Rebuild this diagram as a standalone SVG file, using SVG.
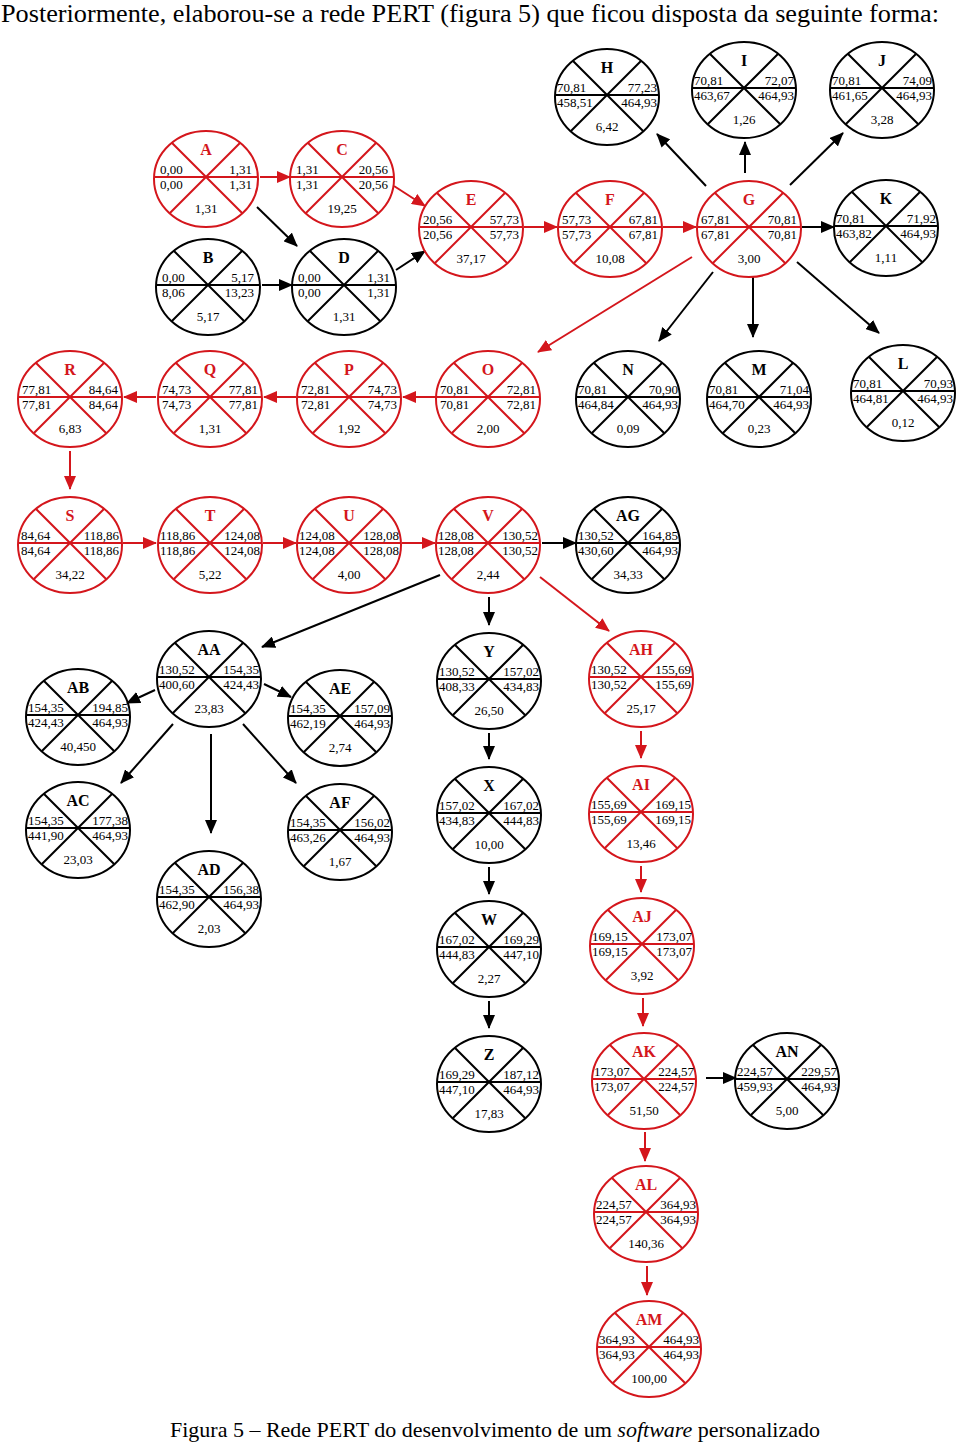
<svg xmlns="http://www.w3.org/2000/svg" xmlns:xlink="http://www.w3.org/1999/xlink" width="960" height="1442" viewBox="0 0 960 1442">
<style>
.r{color:#d4161c}
.k{color:#000}
text{font-family:"Liberation Serif","Times New Roman",serif}
.lb{font-size:16px;font-weight:bold;text-anchor:middle;fill:currentColor}
.nl{font-size:13px;fill:#000}
.nr{font-size:13px;fill:#000;text-anchor:end}
.du{font-size:13px;fill:#000;text-anchor:middle}
.cr{stroke:#d4161c;stroke-width:2;fill:none;marker-end:url(#mr)}
.ck{stroke:#000;stroke-width:2;fill:none;marker-end:url(#mk)}
</style>
<defs>
<marker id="mk" viewBox="0 0 14 12" refX="13" refY="6" markerWidth="14" markerHeight="12" markerUnits="userSpaceOnUse" orient="auto"><path d="M0,0L14,6L0,12z" fill="#000"/></marker>
<marker id="mr" viewBox="0 0 14 12" refX="13" refY="6" markerWidth="14" markerHeight="12" markerUnits="userSpaceOnUse" orient="auto"><path d="M0,0L14,6L0,12z" fill="#d4161c"/></marker>
<g id="nd" fill="none" stroke="currentColor" stroke-width="2"><ellipse cx="0" cy="2" rx="52" ry="48"/><path d="M-52,0H52M-34.2,-34.2L36.3,36.3M34.2,-34.2L-36.3,36.3"/></g>
</defs>
<rect width="960" height="1442" fill="#fff"/>
<text x="1" y="22" font-size="25" textLength="938" lengthAdjust="spacingAndGlyphs">Posteriormente, elaborou-se a rede PERT (figura 5) que ficou disposta da seguinte forma:</text>

<g id="connectors">
<path class="cr" d="M260,177L290,177"/>
<path class="cr" d="M394,186L425,206"/>
<path class="cr" d="M524,227L557,227"/>
<path class="cr" d="M663,227L696,227"/>
<path class="cr" d="M692,257L538,352"/>
<path class="cr" d="M436,397L403,397"/>
<path class="cr" d="M296,397L264,397"/>
<path class="cr" d="M156,397L124,397"/>
<path class="cr" d="M70,451L70,489"/>
<path class="cr" d="M123,543L156,543"/>
<path class="cr" d="M263,543L296,543"/>
<path class="cr" d="M402,543L435,543"/>
<path class="cr" d="M540,577L609,631"/>
<path class="cr" d="M641,731L641,758"/>
<path class="cr" d="M641,866L641,892"/>
<path class="cr" d="M643,998L643,1026"/>
<path class="cr" d="M645,1132L645,1161"/>
<path class="cr" d="M647,1266L647,1295"/>
<path class="ck" d="M257,207L297,246"/>
<path class="ck" d="M262,285L292,285"/>
<path class="ck" d="M396,270L425,251"/>
<path class="ck" d="M706,186L657,134"/>
<path class="ck" d="M745,173L745,142"/>
<path class="ck" d="M790,185L843,133"/>
<path class="ck" d="M802,227L834,227"/>
<path class="ck" d="M713,272L659,341"/>
<path class="ck" d="M753,276L753,337"/>
<path class="ck" d="M797,262L879,333"/>
<path class="ck" d="M542,543L576,543"/>
<path class="ck" d="M440,575L262,647"/>
<path class="ck" d="M489,597L489,625"/>
<path class="ck" d="M155,690L127,703"/>
<path class="ck" d="M264,684L291,697"/>
<path class="ck" d="M173,724L121,783"/>
<path class="ck" d="M211,734L211,833"/>
<path class="ck" d="M243,724L296,783"/>
<path class="ck" d="M489,733L489,759"/>
<path class="ck" d="M489,867L489,894"/>
<path class="ck" d="M489,1001L489,1028"/>
<path class="ck" d="M706,1078L736,1078"/>
</g>

<g id="n-A" class="r" transform="translate(206,177)"><use href="#nd"/><text class="lb" y="-22">A</text><text class="nl" x="-46" y="-3">0,00</text><text class="nr" x="46" y="-3">1,31</text><text class="nl" x="-46" y="12">0,00</text><text class="nr" x="46" y="12">1,31</text><text class="du" y="36">1,31</text></g>
<g id="n-B" class="k" transform="translate(208,285)"><use href="#nd"/><text class="lb" y="-22">B</text><text class="nl" x="-46" y="-3">0,00</text><text class="nr" x="46" y="-3">5,17</text><text class="nl" x="-46" y="12">8,06</text><text class="nr" x="46" y="12">13,23</text><text class="du" y="36">5,17</text></g>
<g id="n-C" class="r" transform="translate(342,177)"><use href="#nd"/><text class="lb" y="-22">C</text><text class="nl" x="-46" y="-3">1,31</text><text class="nr" x="46" y="-3">20,56</text><text class="nl" x="-46" y="12">1,31</text><text class="nr" x="46" y="12">20,56</text><text class="du" y="36">19,25</text></g>
<g id="n-D" class="k" transform="translate(344,285)"><use href="#nd"/><text class="lb" y="-22">D</text><text class="nl" x="-46" y="-3">0,00</text><text class="nr" x="46" y="-3">1,31</text><text class="nl" x="-46" y="12">0,00</text><text class="nr" x="46" y="12">1,31</text><text class="du" y="36">1,31</text></g>
<g id="n-E" class="r" transform="translate(471,227)"><use href="#nd"/><text class="lb" y="-22">E</text><text class="nl" x="-48" y="-3">20,56</text><text class="nr" x="48" y="-3">57,73</text><text class="nl" x="-48" y="12">20,56</text><text class="nr" x="48" y="12">57,73</text><text class="du" y="36">37,17</text></g>
<g id="n-F" class="r" transform="translate(610,227)"><use href="#nd"/><text class="lb" y="-22">F</text><text class="nl" x="-48" y="-3">57,73</text><text class="nr" x="48" y="-3">67,81</text><text class="nl" x="-48" y="12">57,73</text><text class="nr" x="48" y="12">67,81</text><text class="du" y="36">10,08</text></g>
<g id="n-G" class="r" transform="translate(749,227)"><use href="#nd"/><text class="lb" y="-22">G</text><text class="nl" x="-48" y="-3">67,81</text><text class="nr" x="48" y="-3">70,81</text><text class="nl" x="-48" y="12">67,81</text><text class="nr" x="48" y="12">70,81</text><text class="du" y="36">3,00</text></g>
<g id="n-H" class="k" transform="translate(607,95)"><use href="#nd"/><text class="lb" y="-22">H</text><text class="nl" x="-50" y="-3">70,81</text><text class="nr" x="50" y="-3">77,23</text><text class="nl" x="-50" y="12">458,51</text><text class="nr" x="50" y="12">464,93</text><text class="du" y="36">6,42</text></g>
<g id="n-I" class="k" transform="translate(744,88)"><use href="#nd"/><text class="lb" y="-22">I</text><text class="nl" x="-50" y="-3">70,81</text><text class="nr" x="50" y="-3">72,07</text><text class="nl" x="-50" y="12">463,67</text><text class="nr" x="50" y="12">464,93</text><text class="du" y="36">1,26</text></g>
<g id="n-J" class="k" transform="translate(882,88)"><use href="#nd"/><text class="lb" y="-22">J</text><text class="nl" x="-50" y="-3">70,81</text><text class="nr" x="50" y="-3">74,09</text><text class="nl" x="-50" y="12">461,65</text><text class="nr" x="50" y="12">464,93</text><text class="du" y="36">3,28</text></g>
<g id="n-K" class="k" transform="translate(886,226)"><use href="#nd"/><text class="lb" y="-22">K</text><text class="nl" x="-50" y="-3">70,81</text><text class="nr" x="50" y="-3">71,92</text><text class="nl" x="-50" y="12">463,82</text><text class="nr" x="50" y="12">464,93</text><text class="du" y="36">1,11</text></g>
<g id="n-L" class="k" transform="translate(903,391)"><use href="#nd"/><text class="lb" y="-22">L</text><text class="nl" x="-50" y="-3">70,81</text><text class="nr" x="50" y="-3">70,93</text><text class="nl" x="-50" y="12">464,81</text><text class="nr" x="50" y="12">464,93</text><text class="du" y="36">0,12</text></g>
<g id="n-M" class="k" transform="translate(759,397)"><use href="#nd"/><text class="lb" y="-22">M</text><text class="nl" x="-50" y="-3">70,81</text><text class="nr" x="50" y="-3">71,04</text><text class="nl" x="-50" y="12">464,70</text><text class="nr" x="50" y="12">464,93</text><text class="du" y="36">0,23</text></g>
<g id="n-N" class="k" transform="translate(628,397)"><use href="#nd"/><text class="lb" y="-22">N</text><text class="nl" x="-50" y="-3">70,81</text><text class="nr" x="50" y="-3">70,90</text><text class="nl" x="-50" y="12">464,84</text><text class="nr" x="50" y="12">464,93</text><text class="du" y="36">0,09</text></g>
<g id="n-O" class="r" transform="translate(488,397)"><use href="#nd"/><text class="lb" y="-22">O</text><text class="nl" x="-48" y="-3">70,81</text><text class="nr" x="48" y="-3">72,81</text><text class="nl" x="-48" y="12">70,81</text><text class="nr" x="48" y="12">72,81</text><text class="du" y="36">2,00</text></g>
<g id="n-P" class="r" transform="translate(349,397)"><use href="#nd"/><text class="lb" y="-22">P</text><text class="nl" x="-48" y="-3">72,81</text><text class="nr" x="48" y="-3">74,73</text><text class="nl" x="-48" y="12">72,81</text><text class="nr" x="48" y="12">74,73</text><text class="du" y="36">1,92</text></g>
<g id="n-Q" class="r" transform="translate(210,397)"><use href="#nd"/><text class="lb" y="-22">Q</text><text class="nl" x="-48" y="-3">74,73</text><text class="nr" x="48" y="-3">77,81</text><text class="nl" x="-48" y="12">74,73</text><text class="nr" x="48" y="12">77,81</text><text class="du" y="36">1,31</text></g>
<g id="n-R" class="r" transform="translate(70,397)"><use href="#nd"/><text class="lb" y="-22">R</text><text class="nl" x="-48" y="-3">77,81</text><text class="nr" x="48" y="-3">84,64</text><text class="nl" x="-48" y="12">77,81</text><text class="nr" x="48" y="12">84,64</text><text class="du" y="36">6,83</text></g>
<g id="n-S" class="r" transform="translate(70,543)"><use href="#nd"/><text class="lb" y="-22">S</text><text class="nl" x="-49" y="-3">84,64</text><text class="nr" x="49" y="-3">118,86</text><text class="nl" x="-49" y="12">84,64</text><text class="nr" x="49" y="12">118,86</text><text class="du" y="36">34,22</text></g>
<g id="n-T" class="r" transform="translate(210,543)"><use href="#nd"/><text class="lb" y="-22">T</text><text class="nl" x="-50" y="-3">118,86</text><text class="nr" x="50" y="-3">124,08</text><text class="nl" x="-50" y="12">118,86</text><text class="nr" x="50" y="12">124,08</text><text class="du" y="36">5,22</text></g>
<g id="n-U" class="r" transform="translate(349,543)"><use href="#nd"/><text class="lb" y="-22">U</text><text class="nl" x="-50" y="-3">124,08</text><text class="nr" x="50" y="-3">128,08</text><text class="nl" x="-50" y="12">124,08</text><text class="nr" x="50" y="12">128,08</text><text class="du" y="36">4,00</text></g>
<g id="n-V" class="r" transform="translate(488,543)"><use href="#nd"/><text class="lb" y="-22">V</text><text class="nl" x="-50" y="-3">128,08</text><text class="nr" x="50" y="-3">130,52</text><text class="nl" x="-50" y="12">128,08</text><text class="nr" x="50" y="12">130,52</text><text class="du" y="36">2,44</text></g>
<g id="n-AG" class="k" transform="translate(628,543)"><use href="#nd"/><text class="lb" y="-22">AG</text><text class="nl" x="-50" y="-3">130,52</text><text class="nr" x="50" y="-3">164,85</text><text class="nl" x="-50" y="12">430,60</text><text class="nr" x="50" y="12">464,93</text><text class="du" y="36">34,33</text></g>
<g id="n-AA" class="k" transform="translate(209,677)"><use href="#nd"/><text class="lb" y="-22">AA</text><text class="nl" x="-50" y="-3">130,52</text><text class="nr" x="50" y="-3">154,35</text><text class="nl" x="-50" y="12">400,60</text><text class="nr" x="50" y="12">424,43</text><text class="du" y="36">23,83</text></g>
<g id="n-AB" class="k" transform="translate(78,715)"><use href="#nd"/><text class="lb" y="-22">AB</text><text class="nl" x="-50" y="-3">154,35</text><text class="nr" x="50" y="-3">194,85</text><text class="nl" x="-50" y="12">424,43</text><text class="nr" x="50" y="12">464,93</text><text class="du" y="36">40,450</text></g>
<g id="n-AE" class="k" transform="translate(340,716)"><use href="#nd"/><text class="lb" y="-22">AE</text><text class="nl" x="-50" y="-3">154,35</text><text class="nr" x="50" y="-3">157,09</text><text class="nl" x="-50" y="12">462,19</text><text class="nr" x="50" y="12">464,93</text><text class="du" y="36">2,74</text></g>
<g id="n-AC" class="k" transform="translate(78,828)"><use href="#nd"/><text class="lb" y="-22">AC</text><text class="nl" x="-50" y="-3">154,35</text><text class="nr" x="50" y="-3">177,38</text><text class="nl" x="-50" y="12">441,90</text><text class="nr" x="50" y="12">464,93</text><text class="du" y="36">23,03</text></g>
<g id="n-AF" class="k" transform="translate(340,830)"><use href="#nd"/><text class="lb" y="-22">AF</text><text class="nl" x="-50" y="-3">154,35</text><text class="nr" x="50" y="-3">156,02</text><text class="nl" x="-50" y="12">463,26</text><text class="nr" x="50" y="12">464,93</text><text class="du" y="36">1,67</text></g>
<g id="n-AD" class="k" transform="translate(209,897)"><use href="#nd"/><text class="lb" y="-22">AD</text><text class="nl" x="-50" y="-3">154,35</text><text class="nr" x="50" y="-3">156,38</text><text class="nl" x="-50" y="12">462,90</text><text class="nr" x="50" y="12">464,93</text><text class="du" y="36">2,03</text></g>
<g id="n-Y" class="k" transform="translate(489,679)"><use href="#nd"/><text class="lb" y="-22">Y</text><text class="nl" x="-50" y="-3">130,52</text><text class="nr" x="50" y="-3">157,02</text><text class="nl" x="-50" y="12">408,33</text><text class="nr" x="50" y="12">434,83</text><text class="du" y="36">26,50</text></g>
<g id="n-X" class="k" transform="translate(489,813)"><use href="#nd"/><text class="lb" y="-22">X</text><text class="nl" x="-50" y="-3">157,02</text><text class="nr" x="50" y="-3">167,02</text><text class="nl" x="-50" y="12">434,83</text><text class="nr" x="50" y="12">444,83</text><text class="du" y="36">10,00</text></g>
<g id="n-W" class="k" transform="translate(489,947)"><use href="#nd"/><text class="lb" y="-22">W</text><text class="nl" x="-50" y="-3">167,02</text><text class="nr" x="50" y="-3">169,29</text><text class="nl" x="-50" y="12">444,83</text><text class="nr" x="50" y="12">447,10</text><text class="du" y="36">2,27</text></g>
<g id="n-Z" class="k" transform="translate(489,1082)"><use href="#nd"/><text class="lb" y="-22">Z</text><text class="nl" x="-50" y="-3">169,29</text><text class="nr" x="50" y="-3">187,12</text><text class="nl" x="-50" y="12">447,10</text><text class="nr" x="50" y="12">464,93</text><text class="du" y="36">17,83</text></g>
<g id="n-AH" class="r" transform="translate(641,677)"><use href="#nd"/><text class="lb" y="-22">AH</text><text class="nl" x="-50" y="-3">130,52</text><text class="nr" x="50" y="-3">155,69</text><text class="nl" x="-50" y="12">130,52</text><text class="nr" x="50" y="12">155,69</text><text class="du" y="36">25,17</text></g>
<g id="n-AI" class="r" transform="translate(641,812)"><use href="#nd"/><text class="lb" y="-22">AI</text><text class="nl" x="-50" y="-3">155,69</text><text class="nr" x="50" y="-3">169,15</text><text class="nl" x="-50" y="12">155,69</text><text class="nr" x="50" y="12">169,15</text><text class="du" y="36">13,46</text></g>
<g id="n-AJ" class="r" transform="translate(642,944)"><use href="#nd"/><text class="lb" y="-22">AJ</text><text class="nl" x="-50" y="-3">169,15</text><text class="nr" x="50" y="-3">173,07</text><text class="nl" x="-50" y="12">169,15</text><text class="nr" x="50" y="12">173,07</text><text class="du" y="36">3,92</text></g>
<g id="n-AK" class="r" transform="translate(644,1079)"><use href="#nd"/><text class="lb" y="-22">AK</text><text class="nl" x="-50" y="-3">173,07</text><text class="nr" x="50" y="-3">224,57</text><text class="nl" x="-50" y="12">173,07</text><text class="nr" x="50" y="12">224,57</text><text class="du" y="36">51,50</text></g>
<g id="n-AN" class="k" transform="translate(787,1079)"><use href="#nd"/><text class="lb" y="-22">AN</text><text class="nl" x="-50" y="-3">224,57</text><text class="nr" x="50" y="-3">229,57</text><text class="nl" x="-50" y="12">459,93</text><text class="nr" x="50" y="12">464,93</text><text class="du" y="36">5,00</text></g>
<g id="n-AL" class="r" transform="translate(646,1212)"><use href="#nd"/><text class="lb" y="-22">AL</text><text class="nl" x="-50" y="-3">224,57</text><text class="nr" x="50" y="-3">364,93</text><text class="nl" x="-50" y="12">224,57</text><text class="nr" x="50" y="12">364,93</text><text class="du" y="36">140,36</text></g>
<g id="n-AM" class="r" transform="translate(649,1347)"><use href="#nd"/><text class="lb" y="-22">AM</text><text class="nl" x="-50" y="-3">364,93</text><text class="nr" x="50" y="-3">464,93</text><text class="nl" x="-50" y="12">364,93</text><text class="nr" x="50" y="12">464,93</text><text class="du" y="36">100,00</text></g>

<text x="495" y="1437" font-size="22" text-anchor="middle">Figura 5 – Rede PERT do desenvolvimento de um <tspan font-style="italic">software</tspan> personalizado</text>
</svg>
